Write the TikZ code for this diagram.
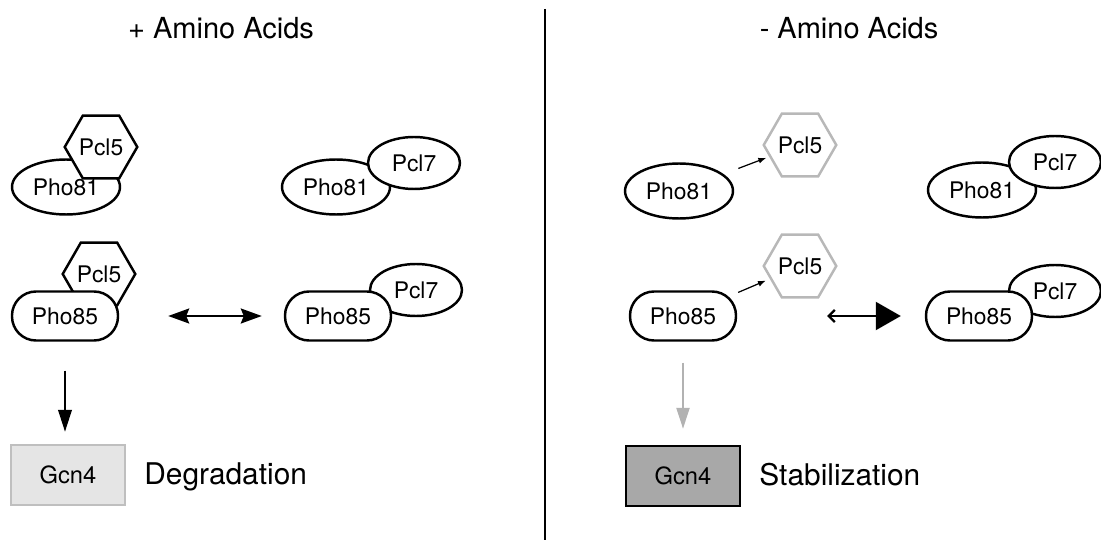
\documentclass[tikz,border=0pt]{standalone}
\usepackage{fontspec}
\setmainfont{TeX Gyre Heros}
\usetikzlibrary{positioning,shapes.geometric,arrows.meta}

\begin{document}
\begin{tikzpicture}[x=0.02cm, y=-0.02cm,
    ovalnode/.style={ellipse, draw=black, fill=white, line width=1.4pt, minimum width=2.16cm, minimum height=1.1cm, inner sep=0pt},
    pclovalnode/.style={ellipse, draw=black, fill=white, line width=1.4pt, minimum width=1.84cm, minimum height=1.04cm, inner sep=0pt},
    pillnode/.style={rectangle, rounded corners=0.48cm, draw=black, fill=white, line width=1.4pt, minimum width=2.12cm, minimum height=0.98cm},
    hexnode/.style={regular polygon, regular polygon sides=6, draw=black, fill=white, line width=1.4pt, minimum size=1.28cm, inner sep=0pt},
    fadedhexnode/.style={hexnode, draw=black!28},
    gcnnode/.style={rectangle, line width=1.4pt, minimum width=2.28cm, minimum height=1.2cm, font=\fontsize{13.5}{16}\selectfont},
    headnode/.style={font=\fontsize{16.5}{19}\selectfont},
    fatenode/.style={font=\fontsize{17}{20}\selectfont, text height=0.72em, text depth=0pt, yshift=-0.06cm},
    ]
    \tikzstyle{every node}=[font=\fontsize{13}{15}\selectfont]
    \useasboundingbox (0,0) rectangle (1101,540);
    %Headings
    \node[headnode] (plus)  at (221,28) {+ Amino Acids};
    \node[headnode] (minus) at (849,28) {- Amino Acids};
    \coordinate (divtop) at (545,9);
    \coordinate (divbot) at (545,540);

    %Nodes, + amino acids
    \node[ovalnode]   (pho81a) at (66,187)  {Pho81};
    \node[hexnode]    (pcl5a)  at (101,147) {Pcl5};
    \node[hexnode]    (pcl5b)  at (99,274)  {Pcl5};
    \node[pillnode]   (pho85a) at (65,316)  {Pho85};
    \node[ovalnode]   (pho81b) at (336,187) {Pho81};
    \node[pclovalnode] (pcl7a) at (414,163) {Pcl7};
    \node[pclovalnode] (pcl7b) at (416,290) {Pcl7};
    \node[pillnode]   (pho85b) at (338,316) {Pho85};
    \node[gcnnode, draw=black!25, fill=black!10] (gcna) at (68,475) {Gcn4};
    \node[fatenode] (degr) [right=0.24cm of gcna] {Degradation};

    %Nodes, - amino acids
    \node[ovalnode]     (pho81c) at (679,191) {Pho81};
    \node[fadedhexnode] (pcl5c)  at (800,145) {Pcl5};
    \node[pillnode]     (pho85c) at (683,316) {Pho85};
    \node[fadedhexnode] (pcl5d)  at (800,266) {Pcl5};
    \node[ovalnode]     (pho81d) at (982,190) {Pho81};
    \node[pclovalnode]  (pcl7c)  at (1055,162) {Pcl7};
    \node[pclovalnode]  (pcl7d)  at (1055,291) {Pcl7};
    \node[pillnode]     (pho85d) at (979,316) {Pho85};
    \node[gcnnode, draw=black, fill=black!34] (gcnb) at (683,476) {Gcn4};
    \node[fatenode] (stab) [right=0.24cm of gcnb] {Stabilization};

    %Lines
    \draw[line width=1.3pt] (divtop) -- (divbot);
    \draw[-{Triangle[length=0.44cm,width=0.27cm]}, line width=1.3pt, shorten <=0.58cm, shorten >=0.24cm] (pho85a.south) -- (pho85a.south |- gcna.north);
    \draw[{Stealth[length=0.42cm,width=0.3cm,inset=0.06cm]}-{Stealth[length=0.42cm,width=0.3cm,inset=0.06cm]}, line width=1.3pt, shorten <=0.98cm, shorten >=0.44cm] (pho85a.east) -- (pho85b.west);
    \draw[-{Latex[length=0.16cm,width=0.12cm]}, line width=0.7pt, shorten <=1.27cm, shorten >=0.72cm] (pho81c.center) -- (pcl5c.center);
    \draw[-{Latex[length=0.16cm,width=0.12cm]}, line width=0.7pt, shorten <=1.2cm, shorten >=0.74cm] (pho85c.center) -- (pcl5d.center);
    \draw[{Straight Barb[length=0.12cm,width=0.24cm]}-{Triangle[length=0.5cm,width=0.56cm]}, line width=1.3pt, shorten <=1.8cm, shorten >=0.48cm] (pho85c.east) -- (pho85d.west);
    \draw[-{Triangle[length=0.42cm,width=0.26cm]}, draw=black!30, line width=1.3pt, shorten <=0.42cm, shorten >=0.32cm] (pho85c.south -| gcnb.north) -- (gcnb.north);
\end{tikzpicture}
\end{document}
